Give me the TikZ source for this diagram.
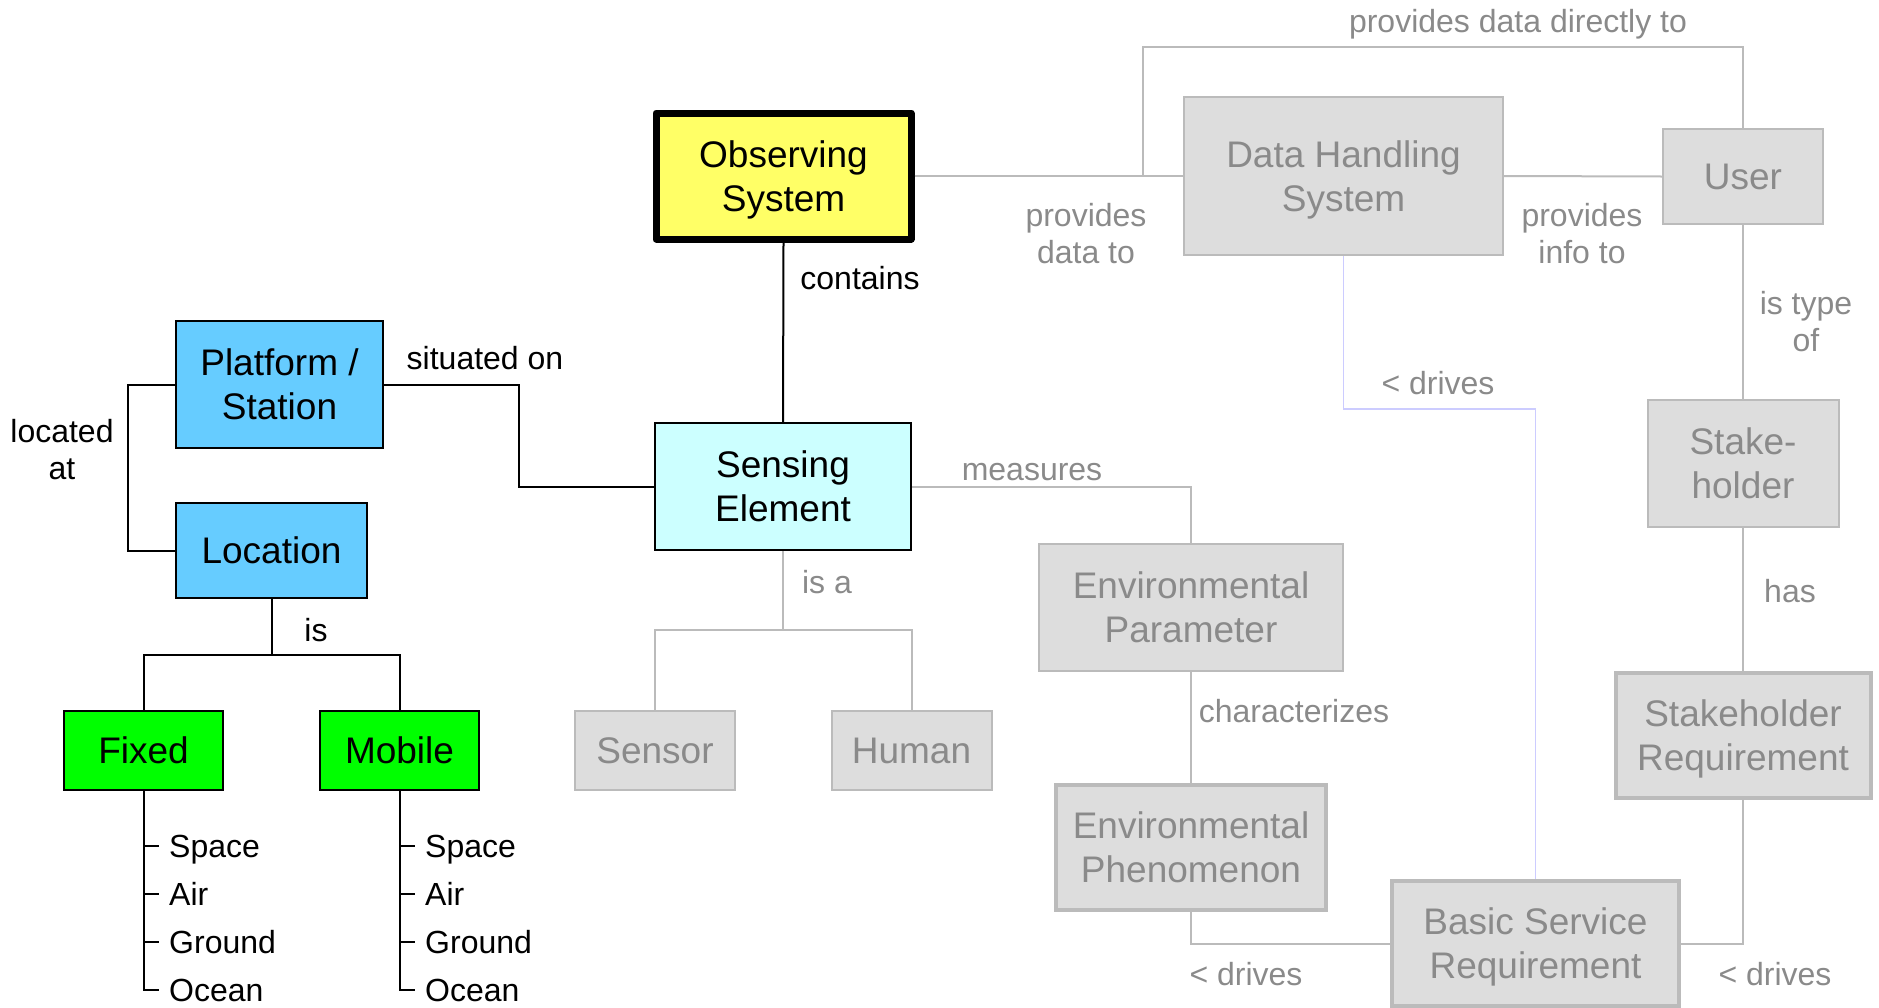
\documentclass[tikz,border=0pt]{standalone}
\usepackage{fontspec}
\setmainfont{Liberation Sans}
\usetikzlibrary{calc}
\definecolor{yel}{HTML}{FFFF66}
\definecolor{lcyan}{HTML}{CCFFFF}
\definecolor{sky}{HTML}{66CCFF}
\definecolor{grn}{HTML}{00FF00}
\definecolor{gfill}{HTML}{DDDDDD}
\definecolor{gline}{HTML}{BBBBBB}
\definecolor{gtext}{HTML}{8A8A8A}
\definecolor{lav}{HTML}{CCCCFF}
\tikzset{
 box/.style={draw=black, line width=2pt, inner sep=0pt, align=center, text depth=-5pt, font=\fontsize{37}{44}\selectfont},
 gbox/.style={draw=gline, fill=gfill, line width=2pt, text=gtext, inner sep=0pt, align=center, text depth=-5pt, font=\fontsize{37}{44}\selectfont},
 thickg/.style={line width=4pt},
 lbl/.style={inner sep=0pt, align=center, font=\fontsize{32}{37}\selectfont},
 glbl/.style={lbl, text=gtext},
 item/.style={lbl, anchor=west, text height=23pt, text depth=0pt},
 bl/.style={draw=black, line width=2pt},
 gl/.style={draw=gline, line width=2pt},
 ll/.style={draw=lav, line width=1.5pt},
}
\begin{document}
\begin{tikzpicture}[x=1pt,y=-1pt]
\useasboundingbox (0,0) rectangle (1879,1007);
% nodes
\node[box, fill=yel, line width=7pt, line join=round, minimum width=255, minimum height=126] (obs) at (783.5,176) {Observing\\System};
\node[gbox, minimum width=319, minimum height=158] (dhs) at (1343.5,176) {Data Handling\\System};
\node[gbox, minimum width=160, minimum height=95] (user) at (1743,176.5) {User};
\node[gbox, minimum width=191, minimum height=127] (sh) at (1743,463.5) {Stake-\\holder};
\node[gbox, thickg, minimum width=255, minimum height=125] (sr) at (1743,735.5) {Stakeholder\\Requirement};
\node[gbox, thickg, minimum width=287, minimum height=125] (bsr) at (1535.5,943.5) {Basic Service\\Requirement};
\node[box, fill=lcyan, minimum width=256, minimum height=127] (se) at (783,486.5) {Sensing\\Element};
\node[box, fill=sky, minimum width=207, minimum height=127] (ps) at (279.5,384.5) {Platform /\\Station};
\node[box, fill=sky, minimum width=191, minimum height=95] (loc) at (271.5,550.5) {Location};
\node[box, fill=grn, minimum width=159, minimum height=79] (fixed) at (143.5,750.5) {Fixed};
\node[box, fill=grn, minimum width=159, minimum height=79] (mobile) at (399.5,750.5) {Mobile};
\node[gbox, minimum width=160, minimum height=79] (sensor) at (655,750.5) {Sensor};
\node[gbox, minimum width=160, minimum height=79] (human) at (911.5,750.5) {Human};
\node[gbox, minimum width=304, minimum height=127] (ep) at (1191,607.5) {Environmental\\Parameter};
\node[gbox, thickg, minimum width=270, minimum height=125] (eph) at (1191,847.5) {Environmental\\Phenomenon};
% list items
\foreach \n/\t/\y in {fs/Space/846, fa/Air/894, fg/Ground/942, fo/Ocean/990}{
  \node[item] (\n) at (169,\y) {\t};
}
\foreach \n/\t/\y in {ms/Space/846, ma/Air/894, mg/Ground/942, mo/Ocean/990}{
  \node[item] (\n) at (425,\y) {\t};
}
% coordinates
\coordinate (j1) at (1143,176);
\coordinate (tr) at (1743,47);
\coordinate (c1) at (1535.5,409);
\coordinate (c2) at (519,384.5);
\coordinate (c3) at (128,384.5);
\coordinate (c4) at (271.5,655);
\coordinate (c5) at (783,630);
% gray connectors
\draw[gl] (obs.east) -- (dhs.west);
\draw[gl] (j1) |- (tr) -- (user.north);
\draw[gl] (dhs.east) -- (user.west);
\draw[gl] (user.south) -- (sh.north);
\draw[gl] (sh.south) -- (sr.north);
\draw[gl] (sr.south) |- (bsr.east);
\draw[gl] (eph.south) |- (bsr.west);
\draw[gl] (ep.south) -- (eph.north);
\draw[gl] (se.east) -| (ep.north);
\draw[gl] (se.south) -- (c5);
\draw[gl] (sensor.north) -- (sensor.north |- c5) -- (human.north |- c5) -- (human.north);
\draw[ll] (dhs.south) |- (c1) -- (bsr.north);
% black connectors
\draw[bl] (obs.south) -- (se.north);
\draw[bl] (ps.east) -- (c2) |- (se.west);
\draw[bl] (ps.west) -- (c3) |- (loc.west);
\draw[bl] (loc.south) -- (c4);
\draw[bl] (fixed.north) -- (fixed.north |- c4) -- (mobile.north |- c4) -- (mobile.north);
\draw[bl] (fixed.south) |- ([xshift=-10pt]fo.west);
\foreach \n in {fs,fa,fg}{ \draw[bl] (fixed.south |- \n.west) -- ([xshift=-10pt]\n.west); }
\draw[bl] (mobile.south) |- ([xshift=-10pt]mo.west);
\foreach \n in {ms,ma,mg}{ \draw[bl] (mobile.south |- \n.west) -- ([xshift=-10pt]\n.west); }
% labels
\node[lbl] (l1) at (860,278) {contains};
\node[lbl] (l2) at (485,358) {situated on};
\node[lbl] (l3) at (62,450) {located\\at};
\node[lbl] (l4) at (316,630) {is};
\node[glbl] (l5) at (827,582) {is a};
\node[glbl] (l6) at (1032,472.5) {measures};
\node[glbl] (l7) at (1294,711) {characterizes};
\node[glbl] (l8) at (1086,234) {provides\\data to};
\node[glbl] (l9) at (1582,234) {provides\\info to};
\node[glbl] (l10) at (1518,24) {provides data directly to};
\node[glbl] (l11) at (1438,383) {< drives};
\node[glbl] (l12) at (1806,322) {is type\\of};
\node[glbl] (l13) at (1790,591) {has};
\node[glbl] (l14) at (1246,974) {< drives};
\node[glbl] (l15) at (1775,974) {< drives};
\end{tikzpicture}
\end{document}
